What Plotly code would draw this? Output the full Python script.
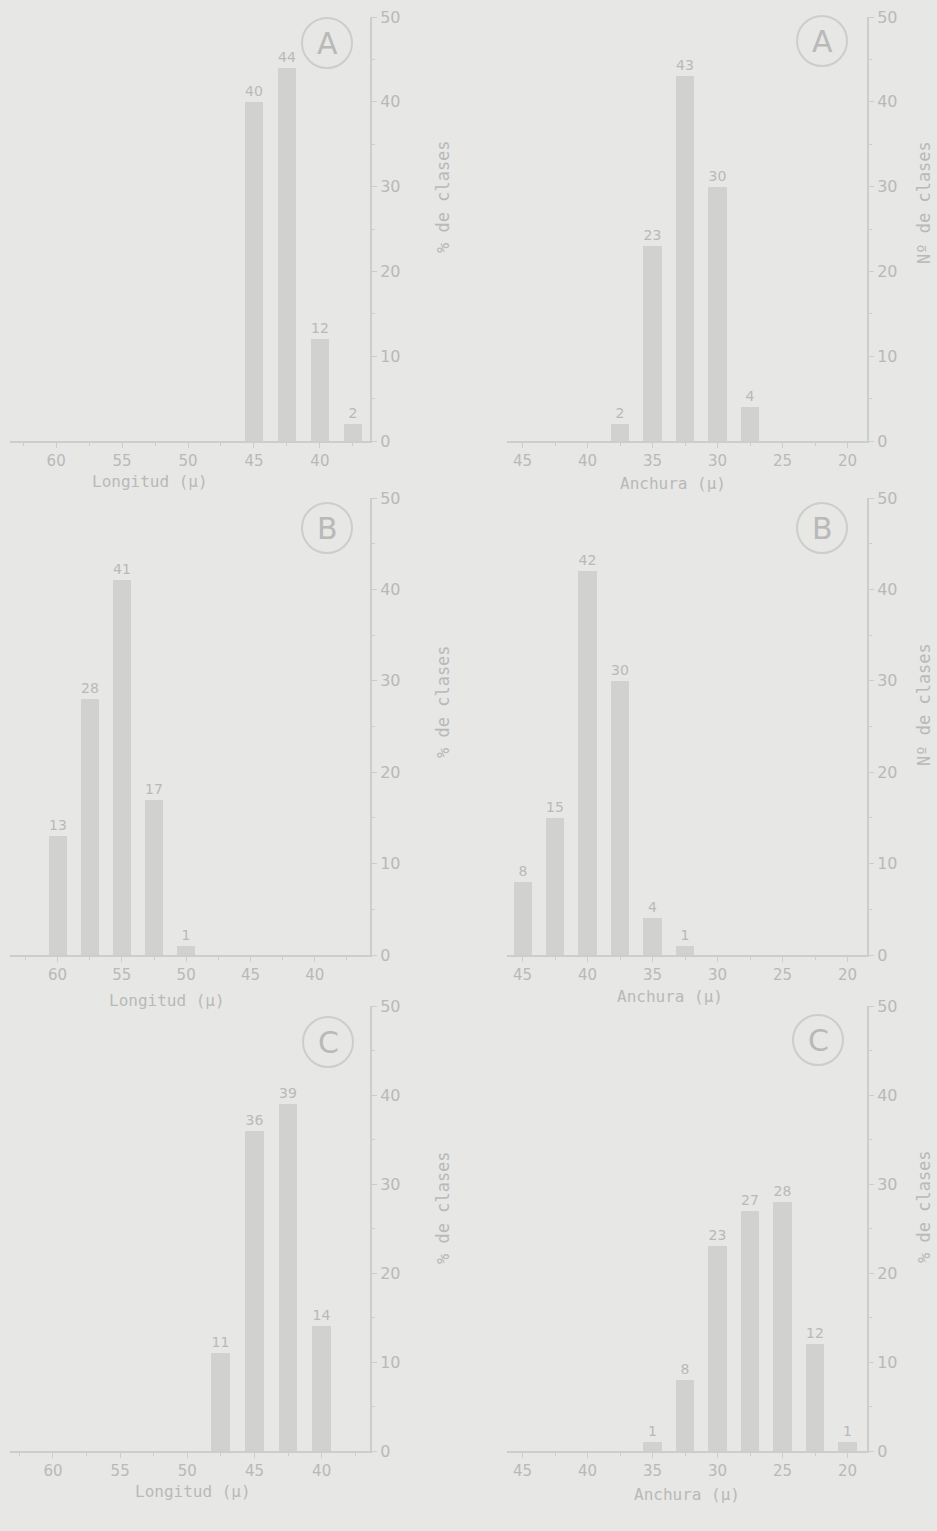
import plotly.graph_objects as go

# ---- data ----
long_A_x = [45, 42.5, 40, 37.5]
long_A_y = [40, 44, 12, 2]
anch_A_x = [37.5, 35, 32.5, 30, 27.5]
anch_A_y = [2, 23, 43, 30, 4]

long_B_x = [60, 57.5, 55, 52.5, 50]
long_B_y = [13, 28, 41, 17, 1]
anch_B_x = [45, 42.5, 40, 37.5, 35, 32.5]
anch_B_y = [8, 15, 42, 30, 4, 1]

long_C_x = [47.5, 45, 42.5, 40]
long_C_y = [11, 36, 39, 14]
anch_C_x = [35, 32.5, 30, 27.5, 25, 22.5, 20]
anch_C_y = [1, 8, 23, 27, 28, 12, 1]

panel_letters = ["A", "A", "B", "B", "C", "C"]
x_titles = ["Longitud (µ)", "Anchura (µ)"] * 3
y_titles = ["% de clases", "Nº de clases", "% de clases", "Nº de clases", "% de clases", "% de clases"]
long_ticks = [60, 55, 50, 45, 40]
anch_ticks = [45, 40, 35, 30, 25, 20]
y_ticks = [0, 10, 20, 30, 40, 50]

# ---- style ----
W, H = 937, 1531
BG = "#e7e7e6"
BAR = "#d1d1d0"
TXT = "#b9b9b8"
AX = "#cdcdcc"
FONT = "DejaVu Sans"
MONO = "DejaVu Sans Mono"

def px(x):
    return x / W

def py(y):
    return 1 - y / H

col_dom = [[px(10), px(370)], [px(507), px(867)]]
row_px = [(17, 441), (498, 955), (1006, 1451)]
x_ranges = [[63.5, 36.2], [46.2, 18.5], [63.7, 35.7], [46.2, 18.5], [63.2, 36.4], [46.2, 18.5]]

series = [(long_A_x, long_A_y), (anch_A_x, anch_A_y),
          (long_B_x, long_B_y), (anch_B_x, anch_B_y),
          (long_C_x, long_C_y), (anch_C_x, anch_C_y)]

fig = go.Figure()
layout = dict(width=W, height=H, margin=dict(l=0, r=0, t=0, b=0, pad=0, autoexpand=False),
              paper_bgcolor=BG, plot_bgcolor=BG, showlegend=False,
              font=dict(family=FONT, color=TXT), bargap=0)
annotations = []
shapes = []

circ = [(327, 43), (822, 41), (327, 528), (822, 528), (328, 1042), (818, 1040)]
xtitle_pos = [(150, 481), (673, 483), (167, 1000), (670, 996), (193, 1491), (687, 1494)]
ytitle_pos = [(443, 197), (924, 203), (443, 702), (924, 705), (443, 1208), (924, 1207)]

for i, (xs, ys) in enumerate(series):
    r, c = divmod(i, 2)
    n = i + 1
    xa = "x" if n == 1 else f"x{n}"
    ya = "y" if n == 1 else f"y{n}"
    fig.add_trace(go.Bar(x=xs, y=ys, width=1.4, marker=dict(color=BAR, line=dict(width=0)),
                         text=ys, textposition="outside", cliponaxis=False,
                         textfont=dict(size=14, color=TXT, family=FONT),
                         xaxis=xa, yaxis=ya))
    ticks = long_ticks if c == 0 else anch_ticks
    top, bot = row_px[r]
    layout[f"xaxis{'' if n == 1 else n}"] = dict(
        domain=col_dom[c], range=x_ranges[i], anchor=ya, automargin=False,
        showline=True, linecolor=AX, linewidth=2, showgrid=False, zeroline=False,
        tickmode="array", tickvals=ticks, ticktext=[str(t) for t in ticks],
        ticks="outside", ticklen=5, tickcolor=AX, tickwidth=1,
        minor=dict(dtick=2.5, tick0=0, ticks="outside", ticklen=3, tickcolor=AX),
        tickfont=dict(size=15, color=TXT, family=FONT), fixedrange=True)
    layout[f"yaxis{'' if n == 1 else n}"] = dict(
        domain=[py(bot), py(top)], range=[0, 50], anchor=xa, side="right", automargin=False,
        showline=True, linecolor=AX, linewidth=2, showgrid=False, zeroline=False,
        tickmode="array", tickvals=y_ticks, ticktext=[str(t) for t in y_ticks],
        ticks="outside", ticklen=5, tickcolor=AX,
        minor=dict(dtick=5, ticks="outside", ticklen=3, tickcolor=AX),
        tickfont=dict(size=16, color=TXT, family=FONT), fixedrange=True)

    cx, cy = circ[i]
    rr = 25
    shapes.append(dict(type="circle", xref="paper", yref="paper",
                       x0=px(cx - rr), x1=px(cx + rr), y0=py(cy + rr), y1=py(cy - rr),
                       line=dict(color=AX, width=2)))
    annotations.append(dict(text=panel_letters[i], x=px(cx), y=py(cy), xref="paper", yref="paper",
                            xanchor="center", yanchor="middle",
                            showarrow=False, font=dict(size=30, color=TXT, family=FONT)))
    tx, ty = xtitle_pos[i]
    annotations.append(dict(text=x_titles[i], x=px(tx), y=py(ty), xref="paper", yref="paper",
                            xanchor="center", yanchor="middle",
                            showarrow=False, font=dict(size=16, color=TXT, family=MONO)))
    vx, vy = ytitle_pos[i]
    annotations.append(dict(text=y_titles[i], x=px(vx), y=py(vy), xref="paper", yref="paper",
                            xanchor="center", yanchor="middle",
                            showarrow=False, textangle=-90,
                            font=dict(size=17, color=TXT, family=MONO)))

layout["annotations"] = annotations
layout["shapes"] = shapes
fig.update_layout(**layout)
fig.write_html("out.html", config={"displayModeBar": False},
               post_script="document.body.style.margin='0';document.body.style.padding='0';document.body.style.overflow='hidden';")
